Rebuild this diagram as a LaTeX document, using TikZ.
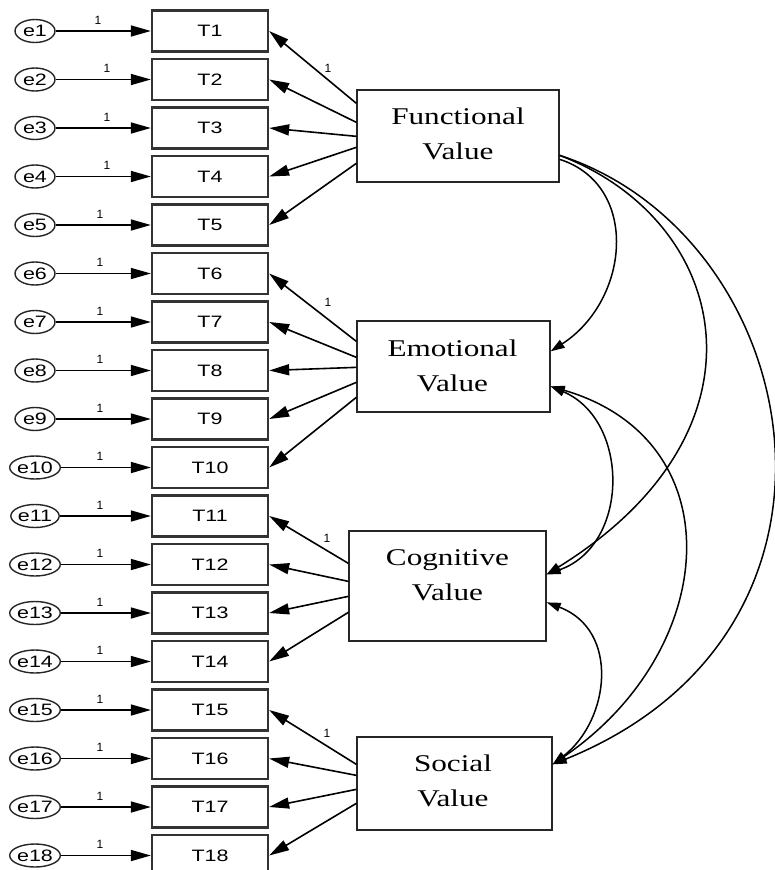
\documentclass[tikz,border=0pt]{standalone}
\usepackage{fontspec}
\usepackage{graphicx}
\setmainfont{Liberation Serif}
\newfontfamily\arialf{Liberation Sans}
\usetikzlibrary{shapes.geometric,arrows.meta,calc}
\newcommand\wx[1]{\scalebox{1.3}[1]{#1}}

\begin{document}
\begin{tikzpicture}[x=1pt,y=-1pt,
  obs/.style={draw=black!80,line width=2.3pt,minimum width=116pt,minimum height=41pt,inner sep=0pt,
    font=\arialf\fontsize{16.5}{16.5}\selectfont},
  err/.style={ellipse,draw=black!85,line width=1.4pt,minimum width=40pt,minimum height=23pt,inner sep=0pt,
    font=\arialf\fontsize{16.5}{16.5}\selectfont},
  lat/.style={draw=black!85,line width=1.3pt,inner sep=0pt},
  lattext/.style={align=center,font=\fontsize{24}{35}\selectfont},
  one/.style={font=\arialf\fontsize{12}{12}\selectfont,inner sep=0pt},
  arr/.style={line width=1.6pt,-{Triangle[length=20pt,width=11pt]}},
  cov/.style={line width=1.5pt},
  cvtip/.tip={Triangle[length=14pt,width=9pt]},
]
\path[use as bounding box,fill=white] (0,0) rectangle (775,870);
\clip (0,0) rectangle (775,870);

% indicators and their error terms
\foreach \i in {1,...,18}{
  \pgfmathsetmacro\cy{31+48.5*(\i-1)}
  \node[obs] (t\i) at (210,\cy) {\wx{T\i}};
  \node[err] (e\i) at (35,\cy) {\wx{e\i}};
  \draw[arr] (e\i) -- (t\i);
}
\foreach \i/\lx in {1/98,2/107,3/107,4/107,5/100,6/100,7/100,8/100,9/100,10/100,11/100,12/100,13/100,14/100,15/100,16/100,17/100,18/100}{
  \pgfmathsetmacro\ly{20+48.5*(\i-1)}
  \node[one] (o\i) at (\lx,\ly) {1};
}

% latent factors
\node[lat,minimum width=202pt,minimum height=92pt] (F) at (458,136) {};
\node[lat,minimum width=193pt,minimum height=91pt] (E) at (453.5,366.5) {};
\node[lat,minimum width=197pt,minimum height=110pt] (C) at (447.5,586) {};
\node[lat,minimum width=195pt,minimum height=93pt] (S) at (454.5,783.5) {};
\node[lattext] (Ftxt) at (458,134) {\wx{Functional}\\\wx{Value}};
\node[lattext] (Etxt) at (452.5,365.5) {\wx{Emotional}\\\wx{Value}};
\node[lattext] (Ctxt) at (447.5,575) {\wx{Cognitive}\\\wx{Value}};
\node[lattext] (Stxt) at (453,780.5) {\wx{Social}\\\wx{Value}};

% loadings
\foreach \k/\y in {1/14,2/33,3/47,4/58,5/74}
  \draw[arr] ($(F.north west)+(0,\y)$) -- (t\k.east);
\foreach \k/\y in {6/21,7/37,8/47,9/62,10/77}
  \draw[arr] ($(E.north west)+(0,\y)$) -- (t\k.east);
\foreach \k/\y in {11/33,12/51,13/66,14/82}
  \draw[arr] ($(C.north west)+(0,\y)$) -- (t\k.east);
\foreach \k/\y in {15/28,16/39,17/53,18/67}
  \draw[arr] ($(S.north west)+(0,\y)$) -- (t\k.east);
\node[one] (lf) at (328,68) {1};
\node[one] (le) at (328,302) {1};
\node[one] (lc) at (327,538) {1};
\node[one] (ls) at (327,733) {1};

% covariances
\coordinate (fa) at ($(F.north east)+(0,70)$);
\coordinate (fb) at ($(F.north east)+(0,66)$);
\coordinate (ea) at ($(E.north east)+(0,31)$);
\coordinate (eb) at ($(E.north east)+(0,66)$);
\coordinate (ca) at ($(C.north east)+(0,44)$);
\coordinate (cb) at ($(C.north east)+(0,72)$);
\coordinate (sa) at ($(S.north east)+(0,28)$);
\draw[cov,-cvtip] (fa) .. controls (640,185) and (630,300) .. (ea);
\draw[cov,-cvtip] (fb) .. controls (730,220) and (780,430) .. (ca);
\draw[cov,-cvtip] (fb) .. controls (805,235) and (885,630) .. (sa);
\draw[cov,cvtip-cvtip] (eb) .. controls (630,420) and (630,545) .. (ca);
\draw[cov,cvtip-cvtip] (eb) .. controls (735,440) and (720,650) .. (sa);
\draw[cov,cvtip-cvtip] (cb) .. controls (620,630) and (610,720) .. (sa);
\end{tikzpicture}
\end{document}
